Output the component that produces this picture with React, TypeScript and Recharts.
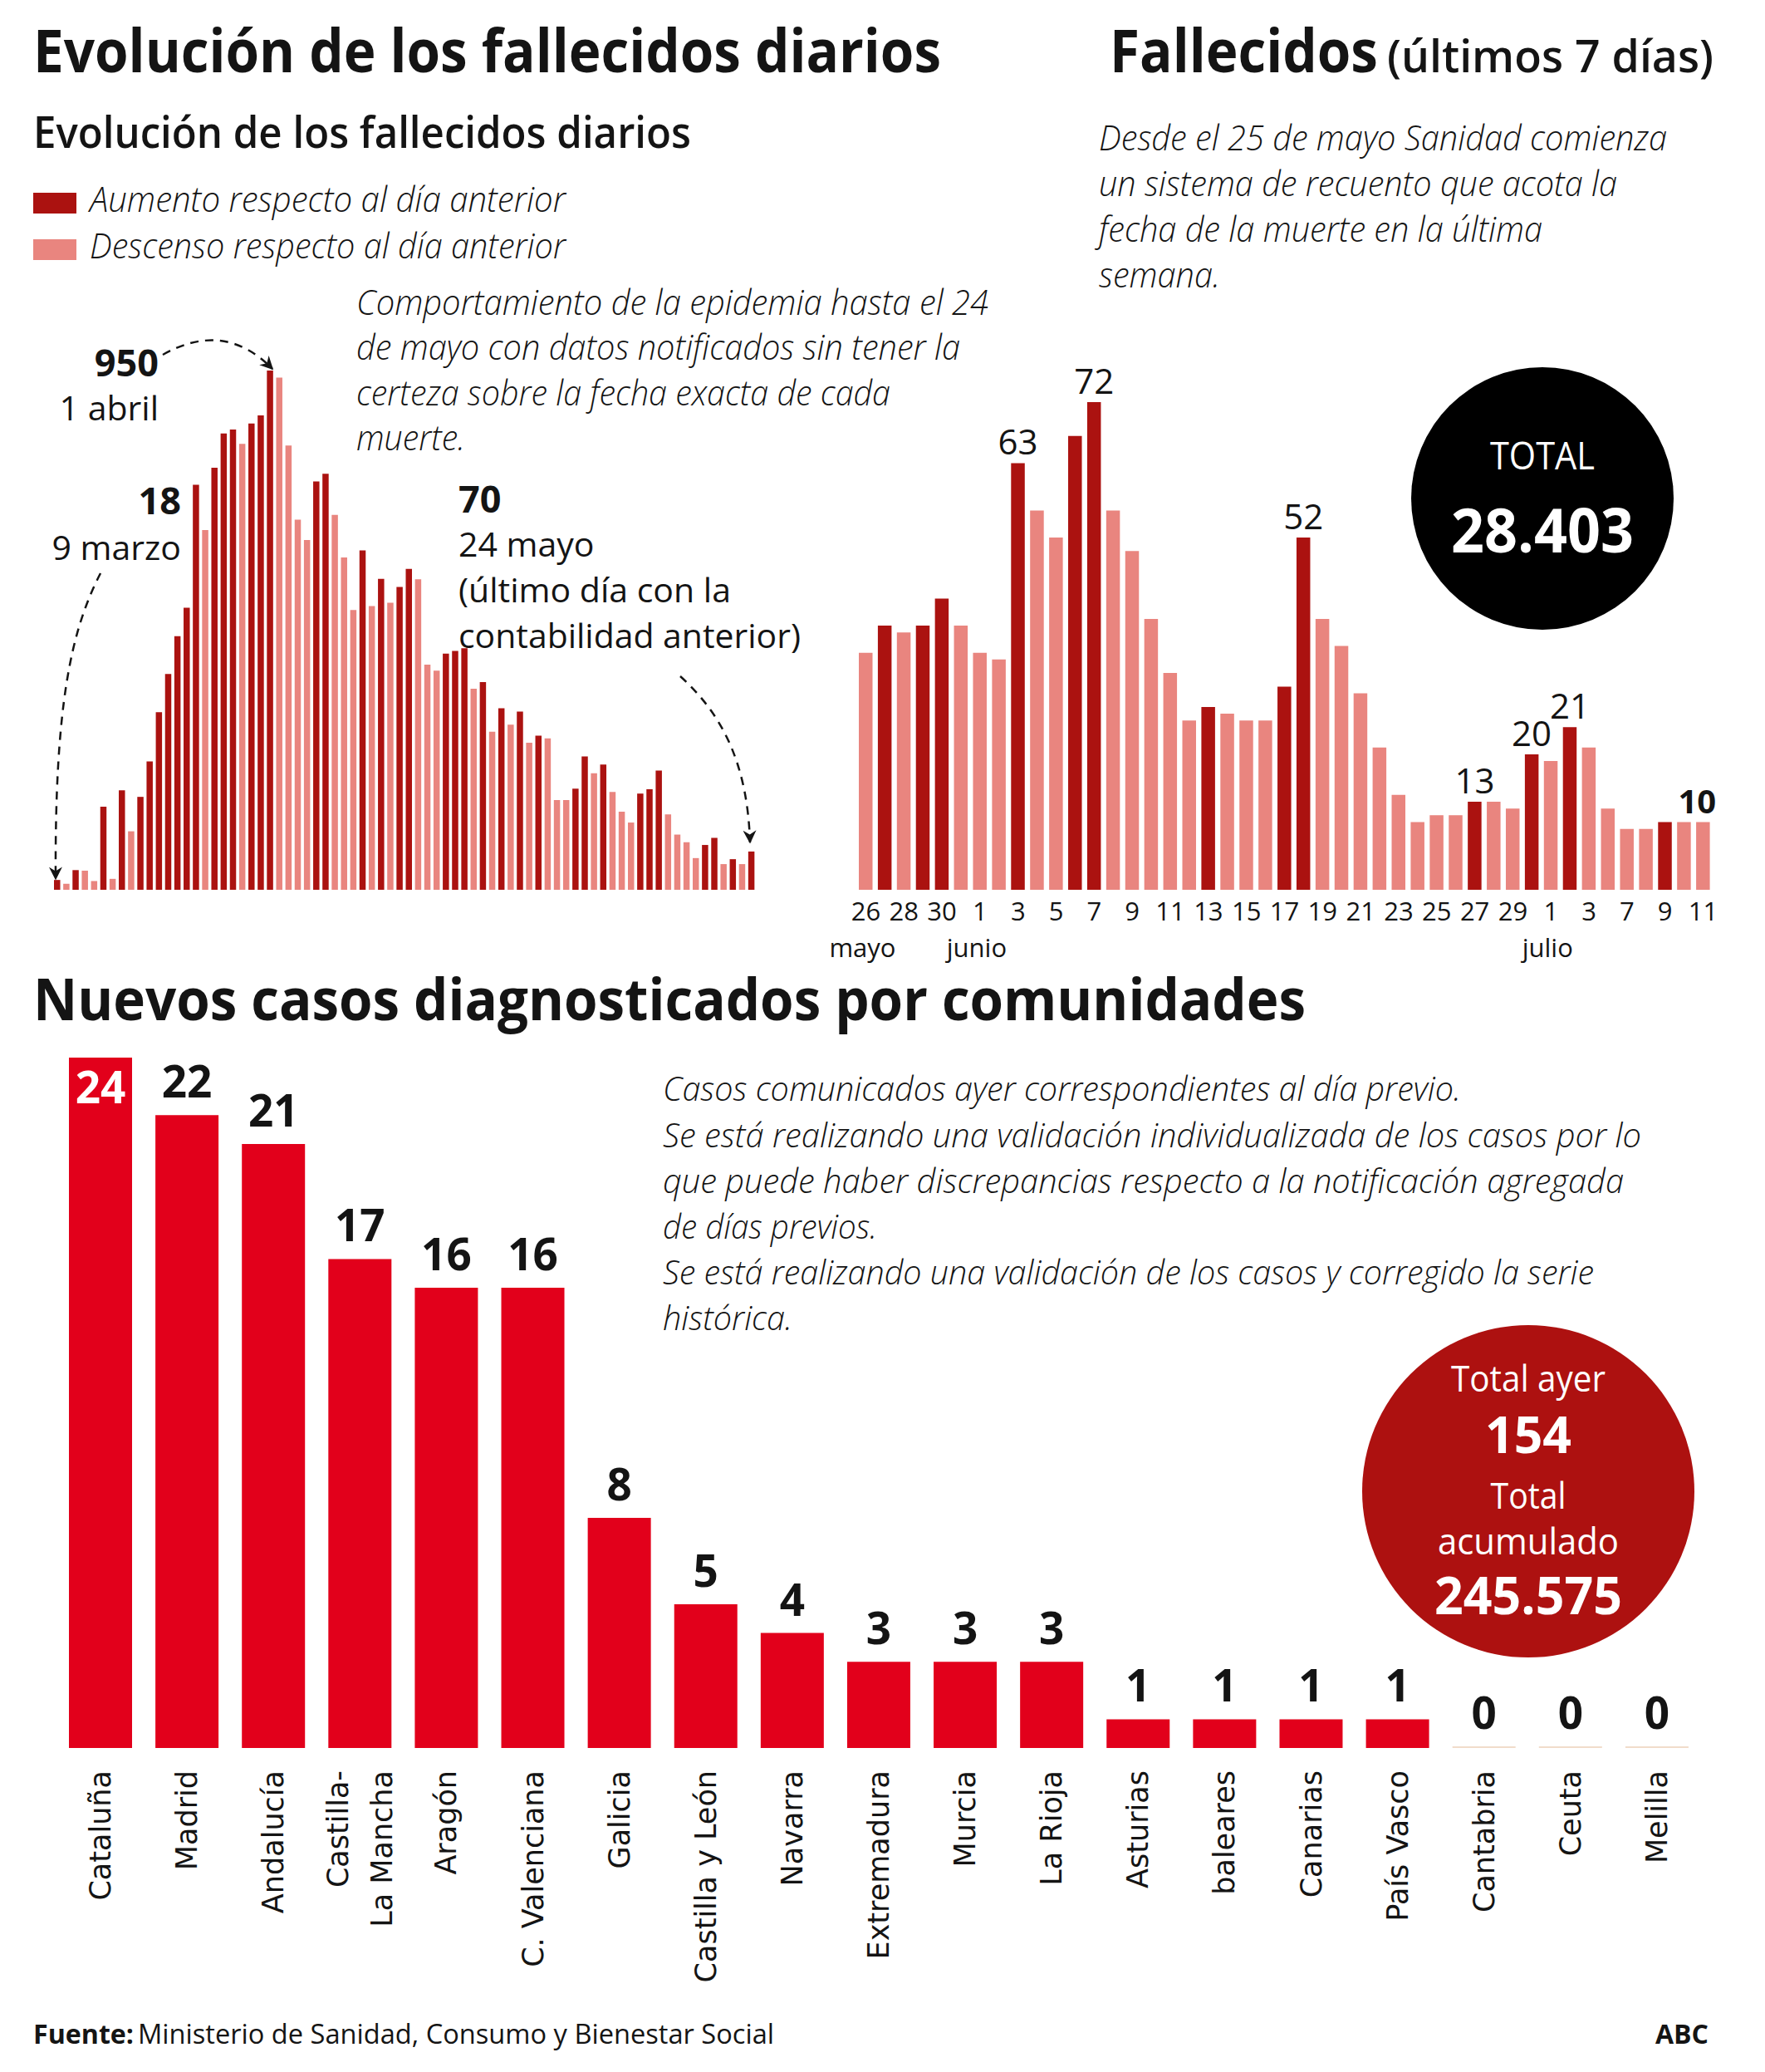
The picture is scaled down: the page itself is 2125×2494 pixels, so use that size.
import React from "react";
import { BarChart, Bar, XAxis, YAxis, Cell, LabelList } from "recharts";

const OSCURO = "#ab1210";
const CLARO = "#e9857f";
const ROJO = "#e2001b";
const GRANATE = "#ad1110";
const TINTA = "#141414";
const FUENTE = "'Open Sans', 'Noto Sans', sans-serif";

// fallecidos diarios, 9 marzo - 24 mayo
const fallecidosEvolucion = [
  18, 11, 36, 35, 16, 152, 20, 182, 107, 170,
  235, 325, 395, 464, 516, 741, 658, 772, 835, 842,
  816, 853, 868, 950, 937, 813, 677, 640, 747, 761,
  686, 608, 512, 621, 519, 569, 525, 554, 587, 568,
  412, 401, 432, 437, 442, 368, 380, 289, 332, 302,
  326, 269, 282, 277, 164, 164, 185, 244, 213, 229,
  179, 143, 123, 176, 184, 218, 138, 101, 87, 58,
  82, 95, 47, 56, 47, 70,
];

// últimos 7 días, 26 mayo - 11 julio
const diasRecientes = [
  "26", "27", "28", "29", "30", "31",
  "1", "2", "3", "4", "5", "6", "7", "8", "9", "10",
  "11", "12", "13", "14", "15", "16", "17", "18", "19", "20",
  "21", "22", "23", "24", "25", "26", "27", "28", "29", "30",
  "1", "2", "3", "6", "7", "8", "9", "10", "11",
];
const mesesRecientes: Record<number, string> = { 0: "mayo", 6: "junio", 36: "julio" };
const fallecidosRecientes = [
  35, 39, 38, 39, 43, 39,
  35, 34, 63, 56, 52, 67, 72, 56, 50, 40,
  32, 25, 27, 26, 25, 25, 30, 52, 40, 36,
  29, 21, 14, 10, 11, 11, 13, 13, 12, 20,
  19, 24, 21, 12, 9, 9, 10, 10, 10,
];
const subidaRecientes = [
  0, 1, 0, 1, 1, 0,
  0, 0, 1, 0, 0, 1, 1, 0, 0, 0,
  0, 0, 1, 0, 0, 0, 1, 1, 0, 0,
  0, 0, 0, 0, 0, 0, 1, 0, 0, 1,
  0, 1, 0, 0, 0, 0, 1, 0, 0,
];
const etiquetasRecientes: Record<number, string> = { 8: "63", 12: "72", 23: "52", 32: "13", 35: "20", 37: "21", 44: "10" };
const etiquetasNegrita = [44];

// nuevos casos por comunidad
const comunidades = [
  "Cataluña", "Madrid", "Andalucía", "Castilla-\nLa Mancha", "Aragón", "C. Valenciana",
  "Galicia", "Castilla y León", "Navarra", "Extremadura", "Murcia", "La Rioja",
  "Asturias", "baleares", "Canarias", "País Vasco", "Cantabria", "Ceuta", "Melilla",
];
const casosNuevos = [24, 22, 21, 17, 16, 16, 8, 5, 4, 3, 3, 3, 1, 1, 1, 1, 0, 0, 0];

const datosEvolucion = fallecidosEvolucion.map((v, idx) => ({ idx, v }));
const datosRecientes = fallecidosRecientes.map((v, idx) => ({ idx, v, etiqueta: etiquetasRecientes[idx] || "" }));
const datosCasos = comunidades.map((nombre, i) => ({ nombre, casos: casosNuevos[i] }));

function Texto(p: any) {
  const { x, y, w, size, weight = 400, italic = false, anchor = "start", fill = TINTA, children } = p;
  return (
    <text
      x={x}
      y={y}
      fontSize={size}
      fontWeight={weight}
      fontStyle={italic ? "italic" : "normal"}
      textAnchor={anchor}
      fill={fill}
      fontFamily={FUENTE}
      textLength={w}
      lengthAdjust={w ? "spacingAndGlyphs" : undefined}
    >
      {children}
    </text>
  );
}

const TickReciente = (props: any) => {
  const { x, y, payload } = props;
  const i = Number(payload.value);
  return (
    <g>
      <text x={x} y={y + 37} textAnchor="middle" fontSize={31} fontFamily={FUENTE} fill={TINTA}>{diasRecientes[i]}</text>
      {mesesRecientes[i] && (
        <text x={x - 4} y={y + 81} textAnchor="middle" fontSize={31} fontFamily={FUENTE} fill={TINTA}>{mesesRecientes[i]}</text>
      )}
    </g>
  );
};

const TickComunidad = (props: any) => {
  const { x, y, payload } = props;
  const lineas = String(payload.value).split("\n");
  return (
    <g>
      {lineas.map((l, j) => {
        const xj = x + (j - (lineas.length - 1) / 2) * 53;
        const y0 = y + 27;
        return (
          <text key={j} x={xj} y={y0} transform={`rotate(-90 ${xj} ${y0})`} textAnchor="end" dominantBaseline="central"
            fontSize={35} fontFamily="'DejaVu Sans', Verdana, sans-serif" fill={TINTA}>{l}</text>
        );
      })}
    </g>
  );
};

const EtiquetaReciente = (props: any) => {
  const { x, y, width, value, index } = props;
  if (!value) return null;
  const negrita = etiquetasNegrita.includes(index);
  return (
    <text x={x + width / 2 - (negrita ? 7 : 0)} y={y - 10} textAnchor="middle" fontSize={negrita ? 40 : 42}
      fontWeight={negrita ? 700 : 400} fontFamily={FUENTE} fill={TINTA}>{value}</text>
  );
};

const EtiquetaCasos = (props: any) => {
  const { x, y, width, value, index } = props;
  const dentro = index === 0;
  return (
    <text x={x + width / 2} y={dentro ? y + 55 : y - 21} textAnchor="middle" fontSize={53} fontWeight={700}
      fontFamily={FUENTE} fill={dentro ? "#fff" : TINTA}>{value}</text>
  );
};

export default function App() {
  return (
    <div style={{ position: "absolute", left: 0, top: 0, width: 2125, height: 2494, background: "#fff", overflow: "hidden" }}>
      {/* evolución de los fallecidos diarios */}
      <div style={{ position: "absolute", left: 63, top: 446 }}>
        <BarChart width={847} height={625} data={datosEvolucion} margin={{ top: 0, right: 0, bottom: 0, left: 0 }} barCategoryGap={0}>
          <XAxis dataKey="idx" hide />
          <YAxis hide width={0} domain={[0, 950]} />
          <Bar dataKey="v" barSize={7.5} isAnimationActive={false}>
            {fallecidosEvolucion.map((v, i) => (
              <Cell key={i} fill={i === 0 || v > fallecidosEvolucion[i - 1] ? OSCURO : CLARO} />
            ))}
          </Bar>
        </BarChart>
      </div>

      {/* fallecidos últimos días */}
      <div style={{ position: "absolute", left: 991, top: 414 }}>
        <BarChart width={1111} height={747} data={datosRecientes} margin={{ top: 70, right: 40, bottom: 0, left: 40 }} barCategoryGap={0}>
          <XAxis dataKey="idx" interval={1} tickLine={false} axisLine={false} tickSize={0} tickMargin={0} height={90} tick={<TickReciente />} />
          <YAxis hide width={0} domain={[0, 72]} />
          <Bar dataKey="v" barSize={16.5} isAnimationActive={false}>
            {fallecidosRecientes.map((v, i) => (
              <Cell key={i} fill={subidaRecientes[i] ? OSCURO : CLARO} />
            ))}
            <LabelList dataKey="etiqueta" content={<EtiquetaReciente />} />
          </Bar>
        </BarChart>
      </div>

      {/* nuevos casos por comunidades */}
      <div style={{ position: "absolute", left: 69, top: 1223 }}>
        <BarChart width={1978} height={1201} data={datosCasos} margin={{ top: 50, right: 0, bottom: 0, left: 0 }} barCategoryGap={0}>
          <XAxis dataKey="nombre" interval={0} tickLine={false} axisLine={false} tickSize={0} tickMargin={0} height={320} tick={<TickComunidad />} />
          <YAxis hide width={0} domain={[0, 24]} />
          <Bar dataKey="casos" barSize={76} minPointSize={2} isAnimationActive={false}>
            {casosNuevos.map((v, i) => (
              <Cell key={i} fill={v === 0 ? "#f1dccb" : ROJO} />
            ))}
            <LabelList dataKey="casos" content={<EtiquetaCasos />} />
          </Bar>
        </BarChart>
      </div>

      <svg width={2125} height={2494} style={{ position: "absolute", left: 0, top: 0, pointerEvents: "none" }}>
        <defs>
          <marker id="punta" viewBox="0 0 10 10" refX="9" refY="5" markerWidth="18" markerHeight="16" markerUnits="userSpaceOnUse" orient="auto">
            <path d="M0,0 L10,5 L0,10 L3,5 Z" fill={TINTA} />
          </marker>
        </defs>

        <Texto x={40} y={87} w={1093} size={72} weight={700}>Evolución de los fallecidos diarios</Texto>
        <Texto x={1336} y={87} w={323} size={72} weight={700}>Fallecidos</Texto>
        <Texto x={1670} y={87} w={393} size={54} weight={600}>(últimos 7 días)</Texto>

        <Texto x={40} y={178} w={792} size={52} weight={600}>Evolución de los fallecidos diarios</Texto>
        <rect x={40} y={232} width={52} height={25} fill={OSCURO} />
        <rect x={40} y={288} width={52} height={25} fill={CLARO} />
        <Texto x={108} y={255} w={573} size={43} weight={300} italic>Aumento respecto al día anterior</Texto>
        <Texto x={108} y={311} w={573} size={43} weight={300} italic>Descenso respecto al día anterior</Texto>

        <Texto x={429} y={379} w={761} size={42} weight={300} italic>Comportamiento de la epidemia hasta el 24</Texto>
        <Texto x={429} y={433} w={727} size={42} weight={300} italic>de mayo con datos notificados sin tener la</Texto>
        <Texto x={429} y={488} w={643} size={42} weight={300} italic>certeza sobre la fecha exacta de cada</Texto>
        <Texto x={429} y={542} w={131} size={42} weight={300} italic>muerte.</Texto>

        <Texto x={1323} y={181} w={684} size={42} weight={300} italic>Desde el 25 de mayo Sanidad comienza</Texto>
        <Texto x={1323} y={236} w={624} size={42} weight={300} italic>un sistema de recuento que acota la</Texto>
        <Texto x={1323} y={291} w={534} size={42} weight={300} italic>fecha de la muerte en la última</Texto>
        <Texto x={1323} y={346} w={146} size={42} weight={300} italic>semana.</Texto>

        <Texto x={191} y={453} size={45} weight={700} anchor="end">950</Texto>
        <Texto x={191} y={506} size={41} anchor="end">1 abril</Texto>
        <Texto x={218} y={619} size={45} weight={700} anchor="end">18</Texto>
        <Texto x={218} y={674} size={41} anchor="end">9 marzo</Texto>
        <Texto x={552} y={617} size={45} weight={700}>70</Texto>
        <Texto x={552} y={670} size={41}>24 mayo</Texto>
        <Texto x={552} y={725} size={41}>(último día con la</Texto>
        <Texto x={552} y={780} w={412} size={41}>contabilidad anterior)</Texto>

        <path d="M 196 427 Q 270 385 328 444" fill="none" stroke={TINTA} strokeWidth={2.5} strokeDasharray="10 8" markerEnd="url(#punta)" />
        <path d="M 121 690 C 85 760, 66 850, 67 1058" fill="none" stroke={TINTA} strokeWidth={2.5} strokeDasharray="10 8" markerEnd="url(#punta)" />
        <path d="M 819 814 C 870 860, 900 920, 903 1014" fill="none" stroke={TINTA} strokeWidth={2.5} strokeDasharray="10 8" markerEnd="url(#punta)" />

        <circle cx={1857} cy={600} r={158} fill="#000" />
        <Texto x={1857} y={565} w={126} size={46} anchor="middle" fill="#fff">TOTAL</Texto>
        <Texto x={1857} y={665} w={220} size={74} weight={700} anchor="middle" fill="#fff">28.403</Texto>

        <Texto x={40} y={1228} w={1532} size={70} weight={700}>Nuevos casos diagnosticados por comunidades</Texto>

        <Texto x={798} y={1325} w={961} size={41} weight={300} italic>Casos comunicados ayer correspondientes al día previo.</Texto>
        <Texto x={798} y={1381} w={1178} size={41} weight={300} italic>Se está realizando una validación individualizada de los casos por lo</Texto>
        <Texto x={798} y={1436} w={1157} size={41} weight={300} italic>que puede haber discrepancias respecto a la notificación agregada</Texto>
        <Texto x={798} y={1491} w={258} size={41} weight={300} italic>de días previos.</Texto>
        <Texto x={798} y={1546} w={1121} size={41} weight={300} italic>Se está realizando una validación de los casos y corregido la serie</Texto>
        <Texto x={798} y={1601} w={156} size={41} weight={300} italic>histórica.</Texto>

        <circle cx={1840} cy={1795} r={200} fill={GRANATE} />
        <Texto x={1840} y={1675} w={186} size={43} anchor="middle" fill="#fff">Total ayer</Texto>
        <Texto x={1840} y={1749} w={104} size={60} weight={700} anchor="middle" fill="#fff">154</Texto>
        <Texto x={1840} y={1816} w={91} size={43} anchor="middle" fill="#fff">Total</Texto>
        <Texto x={1840} y={1871} w={218} size={43} anchor="middle" fill="#fff">acumulado</Texto>
        <Texto x={1840} y={1943} w={226} size={62} weight={700} anchor="middle" fill="#fff">245.575</Texto>

        <Texto x={40} y={2460} w={121} size={32} weight={700}>Fuente:</Texto>
        <Texto x={166} y={2460} w={766} size={32}>Ministerio de Sanidad, Consumo y Bienestar Social</Texto>
        <Texto x={2057} y={2460} size={32} weight={700} anchor="end">ABC</Texto>
      </svg>
    </div>
  );
}
